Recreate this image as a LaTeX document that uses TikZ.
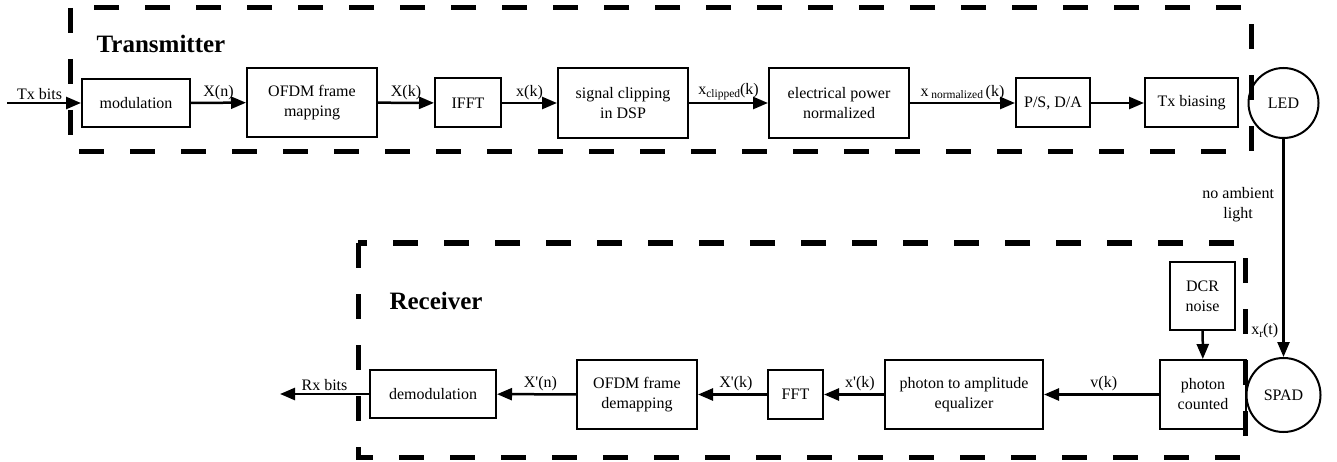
\documentclass[tikz,border=0pt]{standalone}
\usepackage{fontspec}
\setmainfont{Liberation Serif}[Ligatures=ResetAll]
\usetikzlibrary{arrows.meta}
\newcommand{\sbs}[1]{\raisebox{-2.5pt}{\fontsize{11.5}{12}\selectfont #1}}
\begin{document}
\begin{tikzpicture}[x=1pt,y=-1pt,
  blk/.style={draw, line width=2pt, align=center, inner sep=0pt, font=\fontsize{16}{20}\selectfont},
  circ/.style={draw, circle, line width=2pt, inner sep=0pt, font=\fontsize{16}{20}\selectfont},
  conn/.style={line width=2.5pt, -{Triangle[length=15pt,width=12pt]}},
  lbl/.style={font=\fontsize{16}{20}\selectfont, inner sep=1pt, above=1pt},
  grp/.style={draw, line width=5pt, dash pattern=on 25pt off 26pt},
  title/.style={font=\fontsize{25}{30}\selectfont\bfseries}]
\useasboundingbox (0,0) rectangle (1337,462);

% group frames
\draw[grp] (70,8) rectangle (1251,152);
\draw[grp] (358,243) rectangle (1245,457);
\node[title] (ttx) at (161,44) {Transmitter};
\node[title] (trx) at (436,301) {Receiver};

% transmitter blocks
\node[blk, minimum width=108, minimum height=48] (mod) at (136,103) {modulation};
\node[blk, minimum width=130, minimum height=69] (map) at (312,102.5) {OFDM frame\\mapping};
\node[blk, minimum width=66, minimum height=49] (ifft) at (468,103) {IFFT};
\node[blk, minimum width=130, minimum height=70] (clip) at (623,103) {signal clipping\\in DSP};
\node[blk, minimum width=140, minimum height=70] (norm) at (839,103) {electrical power\\normalized};
\node[blk, minimum width=74, minimum height=49] (ps) at (1053,103) {P/S, D/A};
\node[blk, minimum width=93, minimum height=49] (bias) at (1191.5,103) {Tx biasing};
\node[circ, minimum size=70] (led) at (1283.5,103) {LED};
\node[circ, minimum size=74] (spad) at (1283.5,395) {SPAD};

% receiver blocks
\node[blk, minimum width=65, minimum height=68] (dcr) at (1202.5,296) {DCR\\noise};
\node[blk, minimum width=86, minimum height=69] (pc) at (1203,394.5) {photon\\counted};
\node[blk, minimum width=158, minimum height=69] (eq) at (964,394.5) {photon to amplitude\\equalizer};
\node[blk, minimum width=55, minimum height=49] (fft) at (795.5,394.5) {FFT};
\node[blk, minimum width=120, minimum height=69] (demap) at (637,394.5) {OFDM frame\\demapping};
\node[blk, minimum width=126, minimum height=48] (demod) at (433,394) {demodulation};

\coordinate (txin) at (7,103);
\coordinate (rxout) at (280,394);

% transmitter connectors
\draw[conn] (txin) -- node[lbl,pos=0.44]{Tx bits} (mod);
\draw[conn] (mod) -- node[lbl]{X(n)} (map);
\draw[conn] (map) -- node[lbl]{X(k)} (ifft);
\draw[conn] (ifft) -- node[lbl]{x(k)} (clip);
\draw[conn] (clip) -- node[lbl]{x\sbs{clipped}(k)} (norm);
\draw[conn] (norm) -- node[lbl]{x\,\sbs{normalized}\,(k)} (ps);
\draw[conn] (ps) -- (bias);

% channel
\draw[conn] (led) -- node[pos=0.3, left=5pt, align=center, font=\fontsize{16}{20}\selectfont]{no ambient\\light}
  node[pos=0.88, left=3pt, font=\fontsize{16}{20}\selectfont, inner sep=1pt]{x\sbs{r}(t)} (spad);

% receiver connectors
\draw[conn] (dcr) -- (pc);
\draw[conn] (pc) -- node[lbl,pos=0.48]{v(k)} (eq);
\draw[conn] (eq) -- node[lbl,pos=0.4]{x\textquotesingle(k)} (fft);
\draw[conn] (fft) -- node[lbl,pos=0.45]{X\textquotesingle(k)} (demap);
\draw[conn] (demap) -- node[lbl,pos=0.45]{X\textquotesingle(n)} (demod);
\draw[conn] (demod) -- node[lbl]{Rx bits} (rxout);
\end{tikzpicture}
\end{document}
